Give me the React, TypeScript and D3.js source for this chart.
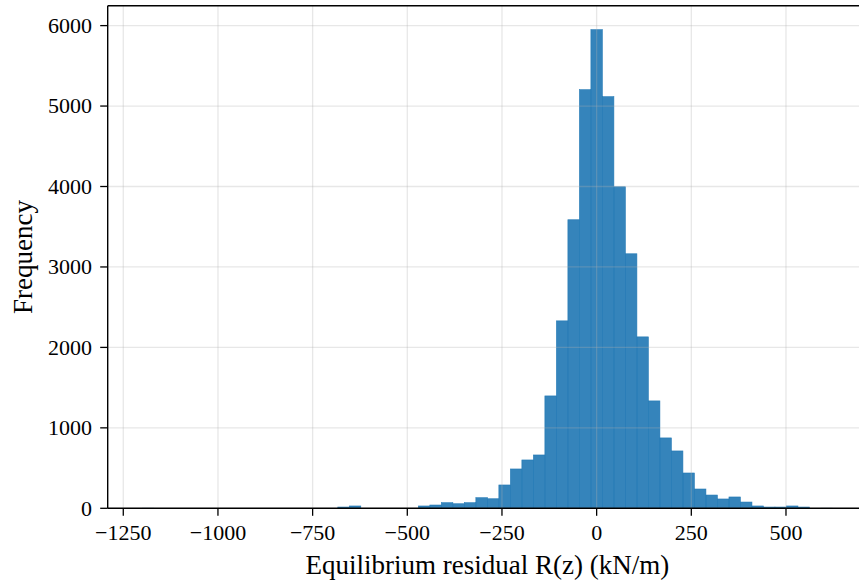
import React from "react";
import * as d3 from "d3";

// Histogram structure (60 bins)
const binStart = -1200;
const binWidth = 30.38;
const counts = [
  1, 0, 0, 0, 0, 0, 0, 0, 0, 0,
  0, 0, 0, 0, 0, 0, 0, 16, 29, 0,
  0, 0, 0, 0, 29, 41, 70, 57, 70, 132,
  119, 290, 489, 601, 663, 1397, 2330, 3587, 5204, 5950,
  5117, 3997, 3164, 2131, 1335, 875, 713, 439, 240, 165,
  116, 141, 78, 29, 16, 16, 29, 16, 0, 1,
];
const xTicks = [-1250, -1000, -750, -500, -250, 0, 250, 500];
const yTicks = [0, 1000, 2000, 3000, 4000, 5000, 6000];
const xLabel = "Equilibrium residual R(z) (kN/m)";
const yLabel = "Frequency";

const W = 859;
const H = 583;
const L = 107.7;
const R = 867;
const T = 5.7;
const B = 508.3;

export default function App() {
  const nb = counts.length;
  const lo = binStart;
  const hi = binStart + nb * binWidth;
  const span = hi - lo;
  const x = d3.scaleLinear().domain([lo - 0.05 * span, hi + 0.05 * span]).range([L, R]);
  const maxC = d3.max(counts) as number;
  const y = d3.scaleLinear().domain([0, maxC * 1.05]).range([B, T]);
  const fmt = (v: number) => d3.format("d")(v);
  const font = "'Liberation Serif', 'Times New Roman', serif";

  return (
    <svg
      width={W}
      height={H}
      style={{ position: "absolute", left: 0, top: 0, background: "#fff" }}
      fontFamily={font}
    >
      <defs>
        <clipPath id="plotclip">
          <rect x={L} y={T} width={R - L} height={B - T} />
        </clipPath>
      </defs>
      <g clipPath="url(#plotclip)">
        {counts.map((c, i) =>
          c > 0 ? (
            <rect
              key={i}
              x={x(lo + i * binWidth)}
              y={y(c)}
              width={x(lo + (i + 1) * binWidth) - x(lo + i * binWidth)}
              height={B - y(c)}
              fill="#1f77b4"
              fillOpacity={0.9}
              stroke="#1f77b4"
              strokeOpacity={0.9}
              strokeWidth={0.6}
            />
          ) : null
        )}
        {xTicks.map((t) => (
          <line key={"gx" + t} x1={x(t)} x2={x(t)} y1={T} y2={B} stroke="#b0b0b0" strokeOpacity={0.3} strokeWidth={1.3} />
        ))}
        {yTicks.map((t) => (
          <line key={"gy" + t} x1={L} x2={R} y1={y(t)} y2={y(t)} stroke="#b0b0b0" strokeOpacity={0.3} strokeWidth={1.3} />
        ))}
      </g>
      {/* spines */}
      <line x1={L} x2={L} y1={T} y2={B} stroke="#000" strokeWidth={1.4} />
      <line x1={L} x2={R} y1={B} y2={B} stroke="#000" strokeWidth={1.4} />
      <line x1={L} x2={R} y1={T} y2={T} stroke="#000" strokeWidth={1.4} />
      <line x1={R} x2={R} y1={T} y2={B} stroke="#000" strokeWidth={1.4} />
      {/* x ticks */}
      {xTicks.map((t) => (
        <g key={"xt" + t}>
          <line x1={x(t)} x2={x(t)} y1={B} y2={B + 7.5} stroke="#000" strokeWidth={1.3} />
          <text x={x(t)} y={540} textAnchor="middle" fontSize={22} fill="#000">
            {fmt(t)}
          </text>
        </g>
      ))}
      {/* y ticks */}
      {yTicks.map((t) => (
        <g key={"yt" + t}>
          <line x1={L - 7.5} x2={L} y1={y(t)} y2={y(t)} stroke="#000" strokeWidth={1.3} />
          <text x={92} y={y(t)} dy="0.33em" textAnchor="end" fontSize={22} fill="#000">
            {fmt(t)}
          </text>
        </g>
      ))}
      <text x={(L + R) / 2} y={574} textAnchor="middle" fontSize={27} fill="#000">
        {xLabel}
      </text>
      <text
        transform={`translate(${32},${(T + B) / 2}) rotate(-90)`}
        textAnchor="middle"
        fontSize={27}
        fill="#000"
      >
        {yLabel}
      </text>
    </svg>
  );
}
